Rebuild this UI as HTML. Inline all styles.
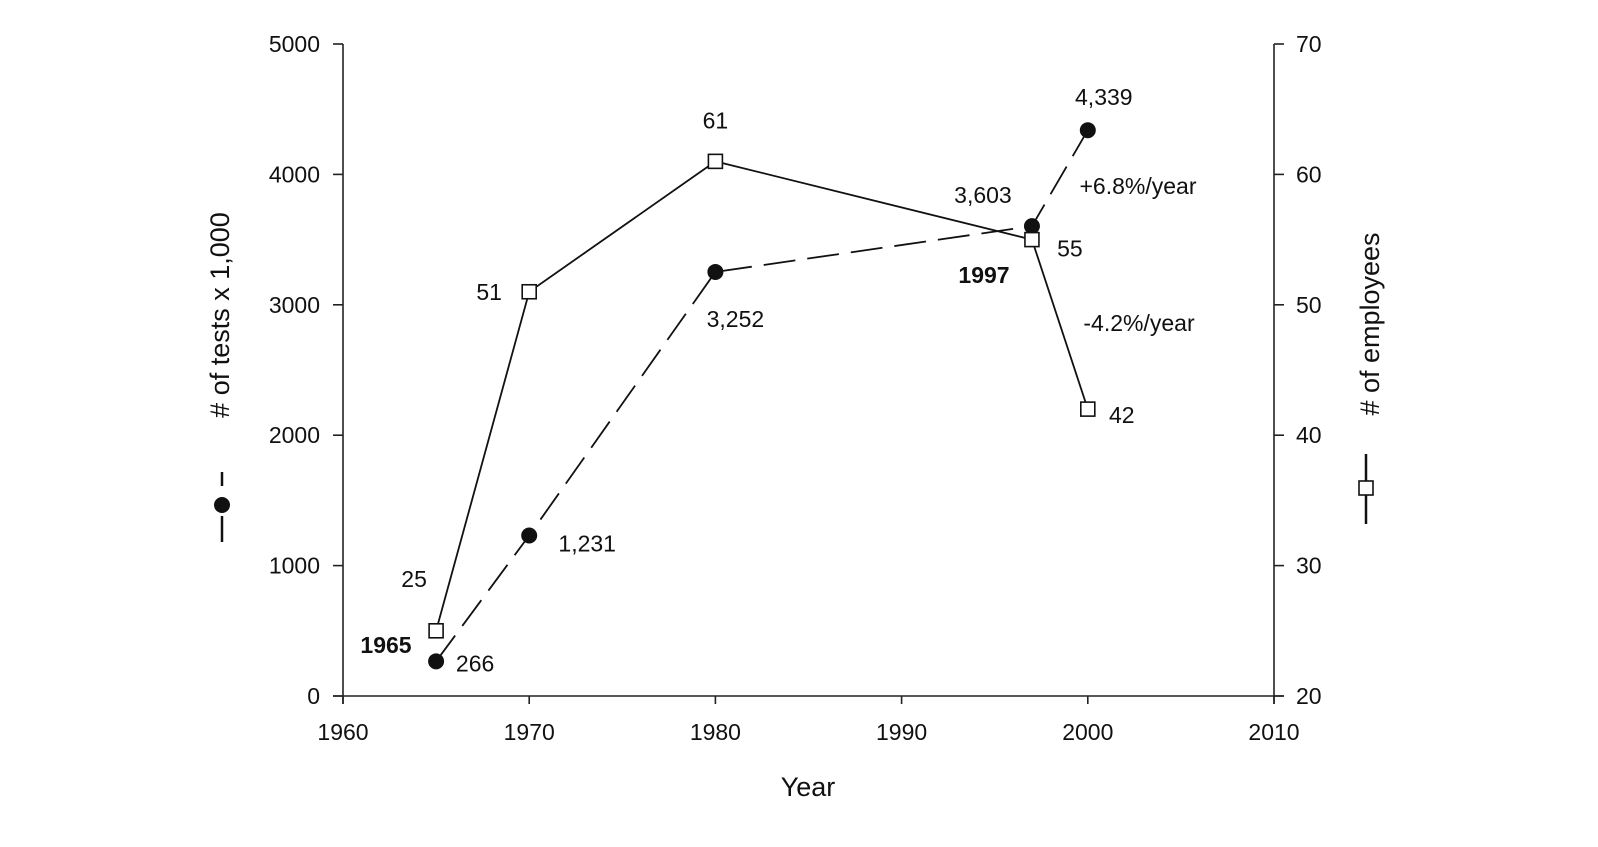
<!DOCTYPE html>
<html><head><meta charset="utf-8"><style>
html,body{margin:0;padding:0;background:#fff;}
svg text{font-family:"Liberation Sans",Arial,sans-serif;fill:#111;}
</style></head><body>
<svg id="chart" width="1598" height="842" xmlns="http://www.w3.org/2000/svg"></svg>
<script>
const years = [1965, 1970, 1980, 1997, 2000];
const tests = [266, 1231, 3252, 3603, 4339];
const testLabels = ["266", "1,231", "3,252", "3,603", "4,339"];
const employees = [25, 51, 61, 55, 42];
const empLabels = ["25", "51", "61", "55", "42"];
const xTicks = [1960, 1970, 1980, 1990, 2000, 2010];
const yLeftTicks = [0, 1000, 2000, 3000, 4000, 5000];
const yRightTicks = [20, 30, 40, 50, 60, 70];
// label offsets (layout)
const testOff = [[39,2],[58,8],[20,47],[-49,-31],[16,-33]];
const empOff = [[-22,-52],[-40,0],[0,-41],[38,9],[34,6]];

const NS = "http://www.w3.org/2000/svg";
const svg = document.getElementById('chart');
const X0 = 343, X1 = 1274, Y0 = 696, Y1 = 44;
const x = v => X0 + (v - 1960) / 50 * (X1 - X0);
const yL = v => Y0 - v / 5000 * (Y0 - Y1);
const yR = v => Y0 - (v - 20) / 50 * (Y0 - Y1);
function mk(tag, attrs, parent) {
  const e = document.createElementNS(NS, tag);
  for (const k in attrs) e.setAttribute(k, attrs[k]);
  (parent || svg).appendChild(e);
  return e;
}
function txt(s, x0, y0, size, anchor, extra) {
  const t = mk('text', Object.assign({x: x0, y: y0, 'font-size': size, 'text-anchor': anchor || 'middle', 'dominant-baseline': 'central'}, extra || {}));
  t.textContent = s;
  return t;
}
const axStyle = {stroke: '#222', 'stroke-width': 1.6, fill: 'none'};
let e = mk('line', Object.assign({x1: X0, y1: Y1, x2: X0, y2: Y0 + 8}, axStyle));


e = mk('line', Object.assign({x1: X1, y1: Y1, x2: X1, y2: Y0 + 8}, axStyle));


e = mk('line', Object.assign({x1: X0 - 10, y1: Y0, x2: X1 + 10, y2: Y0}, axStyle));


xTicks.forEach(v => {
  mk('line', Object.assign({x1: x(v), y1: Y0, x2: x(v), y2: Y0 + 8}, axStyle));
  const t = txt(String(v), x(v), Y0 + 36, 23);
  
  
});
yLeftTicks.forEach(v => {
  mk('line', Object.assign({x1: X0 - 10, y1: yL(v), x2: X0, y2: yL(v)}, axStyle));
  const t = txt(String(v), X0 - 23, yL(v), 23, 'end');
  
  
});
yRightTicks.forEach(v => {
  mk('line', Object.assign({x1: X1, y1: yR(v), x2: X1 + 10, y2: yR(v)}, axStyle));
  const t = txt(String(v), X1 + 22, yR(v), 23, 'start');
  
  
});
e = txt('Year', 808, 787, 27);


e = txt('# of tests x 1,000', 0, 0, 27, 'middle', {transform: 'translate(220,315) rotate(-90)'});


e = txt('# of employees', 0, 0, 27, 'middle', {transform: 'translate(1370,324) rotate(-90)'});


const lg1 = mk('g', {});


mk('line', {x1: 222, y1: 516, x2: 222, y2: 542, stroke: '#111', 'stroke-width': 2.5}, lg1);
mk('line', {x1: 222, y1: 472, x2: 222, y2: 486, stroke: '#111', 'stroke-width': 2.5}, lg1);
mk('circle', {cx: 222, cy: 505, r: 8, fill: '#111'}, lg1);
const lg2 = mk('g', {});


mk('line', {x1: 1366, y1: 454, x2: 1366, y2: 524, stroke: '#111', 'stroke-width': 2.5}, lg2);
mk('rect', {x: 1359, y: 481, width: 14, height: 14, fill: '#fff', stroke: '#111', 'stroke-width': 1.6}, lg2);
const ptsT = years.map((yr, i) => x(yr) + ',' + yL(tests[i])).join(' ');
e = mk('polyline', {points: ptsT, fill: 'none', stroke: '#111', 'stroke-width': 1.8, 'stroke-dasharray': '32 12'});


const ptsE = years.map((yr, i) => x(yr) + ',' + yR(employees[i])).join(' ');
e = mk('polyline', {points: ptsE, fill: 'none', stroke: '#111', 'stroke-width': 1.8});


years.forEach((yr, i) => {
  const c = mk('circle', {cx: x(yr), cy: yL(tests[i]), r: 8, fill: '#111'});
  
  
  const t = txt(testLabels[i], x(yr) + testOff[i][0], yL(tests[i]) + testOff[i][1], 23);
  
  
});
years.forEach((yr, i) => {
  const r = mk('rect', {x: x(yr) - 7, y: yR(employees[i]) - 7, width: 14, height: 14, fill: '#fff', stroke: '#111', 'stroke-width': 1.6});
  
  
  const t = txt(empLabels[i], x(yr) + empOff[i][0], yR(employees[i]) + empOff[i][1], 23);
  
  
});
e = txt('1965', 386, 645, 23, 'middle', {'font-weight': 'bold'});


e = txt('1997', 984, 275, 23, 'middle', {'font-weight': 'bold'});


e = txt('+6.8%/year', 1138, 186, 23);


e = txt('-4.2%/year', 1139, 323, 23);


</script>
</body></html>
